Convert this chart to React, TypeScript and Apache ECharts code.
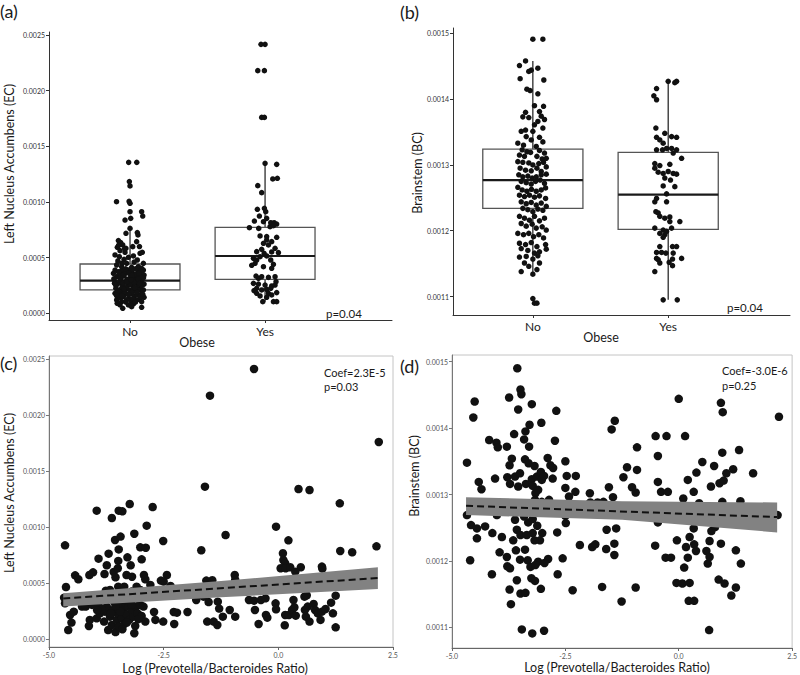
import React, { useEffect, useRef } from 'react';
import * as echarts from 'echarts';

const FONT = 'Lato, "Open Sans", sans-serif';

const obeseCategories = ['No', 'Yes'];
const nucleusTicks = [0, 0.0005, 0.001, 0.0015, 0.002, 0.0025];
const brainTicks = [0.0011, 0.0012, 0.0013, 0.0014, 0.0015];
const ratioTicks = [-5, -2.5, 0, 2.5];

// [position, whiskerLow, q1, median, q3, whiskerHigh]
const nucleusBoxes = [
  [1, 0.00005, 0.00021, 0.000293, 0.000443, 0.000749],
  [2, 0.000105, 0.000305, 0.000515, 0.000772, 0.001347],
];
const brainBoxes = [
  [1, 0.001133, 0.001234, 0.001277, 0.001324, 0.001458],
  [2, 0.001095, 0.001202, 0.001255, 0.001319, 0.001427],
];

// jittered points [jitteredGroup, value]
const nucleusNo = [
  [0.99, 0.001356], [1.05, 0.001356], [0.995, 0.001183], [1.0, 0.001144], [0.9, 0.001003], [0.993, 0.001006], [1.0, 0.000988], [1.0, 0.000913], [1.086, 0.000913], [1.094, 0.000874], [0.963, 0.000838], [1.005, 0.000853], [1.0, 0.000763], [0.97, 0.000719], [1.054, 0.000725], [1.059, 0.000704],
  [0.914, 0.000653], [0.931, 0.000635], [0.946, 0.000614], [0.906, 0.000593], [0.97, 0.000584], [0.926, 0.000563], [0.963, 0.000548], [1.02, 0.000599], [1.049, 0.000644], [1.074, 0.000539], [1.091, 0.000548],
  [0.889, 0.000524], [0.921, 0.000509], [0.956, 0.000485], [0.988, 0.000503], [1.025, 0.000515], [1.054, 0.000479], [1.099, 0.000449], [0.901, 0.000434], [0.938, 0.000419], [0.975, 0.000449], [1.012, 0.000413], [1.062, 0.000419], [1.086, 0.000404],
  [0.889, 0.000389], [0.914, 0.000374], [0.938, 0.000383], [0.963, 0.000359], [0.988, 0.000389], [1.012, 0.000374], [1.037, 0.000353], [1.062, 0.000383], [1.086, 0.000365], [1.104, 0.000344], [0.901, 0.000329], [0.931, 0.000314], [0.956, 0.000335], [0.98, 0.000305], [1.005, 0.000329], [1.03, 0.000311], [1.054, 0.000323], [1.079, 0.000305], [1.099, 0.000389], [0.877, 0.000359],
  [0.889, 0.000284], [0.906, 0.000263], [0.926, 0.000275], [0.946, 0.000246], [0.965, 0.000284], [0.985, 0.000254], [1.005, 0.000269], [1.025, 0.00024], [1.044, 0.000275], [1.064, 0.000251], [1.084, 0.000284], [1.104, 0.000263], [0.895, 0.000225], [0.921, 0.00021], [0.941, 0.000234], [0.96, 0.00021], [0.98, 0.000222], [1.0, 0.000204], [1.02, 0.000222], [1.04, 0.00021], [1.059, 0.000234], [1.079, 0.000216], [1.099, 0.00021],
  [0.889, 0.00018], [0.914, 0.000165], [0.931, 0.000186], [0.951, 0.00015], [0.97, 0.000174], [0.99, 0.000135], [1.01, 0.00018], [1.03, 0.00015], [1.049, 0.000168], [1.069, 0.000126], [1.086, 0.00018], [1.104, 0.000144], [0.901, 0.00012], [0.938, 0.000105], [0.975, 0.00012], [1.012, 0.000105], [1.049, 0.00012], [1.086, 0.000105],
  [0.926, 0.000075], [0.946, 0.000045], [0.988, 0.000075], [1.025, 0.000084], [1.086, 0.000054], [1.012, 0.00006],
  [0.88, 0.00031], [0.895, 0.00025], [0.91, 0.0002], [0.935, 0.00029], [0.95, 0.00027], [0.97, 0.00023], [0.985, 0.0003], [1.0, 0.00026], [1.015, 0.00019], [1.03, 0.00028], [1.045, 0.00035], [1.06, 0.00021], [1.075, 0.00033], [1.09, 0.00025], [1.1, 0.00032], [0.92, 0.00036], [0.945, 0.00034], [0.968, 0.0004], [0.99, 0.00036], [1.015, 0.00034], [1.04, 0.0004], [1.065, 0.00029], [1.08, 0.00037], [0.9, 0.00016], [0.93, 0.00014], [0.96, 0.00019], [0.99, 0.00017], [1.02, 0.00013], [1.05, 0.00019], [1.075, 0.00015], [0.91, 0.00047], [0.94, 0.00045], [0.96, 0.00058], [1.03, 0.00046], [1.07, 0.0006], [0.915, 0.00061], [1.06, 0.00031], [0.905, 0.00009], [0.97, 0.0001], [1.04, 0.0001],
  [0.885, 0.00027], [0.925, 0.00032], [0.955, 0.00022], [0.975, 0.00028], [1.008, 0.0003], [1.035, 0.00023], [1.07, 0.00027], [1.095, 0.00017], [0.94, 0.00016], [1.065, 0.00036],
];
const nucleusYes = [
  [1.97, 0.002416], [2.0, 0.002416], [1.946, 0.00218], [1.995, 0.00218], [1.975, 0.00176], [1.995, 0.00176], [2.0, 0.001347], [2.086, 0.001338], [2.057, 0.001207], [2.091, 0.001213], [1.946, 0.001147], [1.975, 0.001084],
  [1.943, 0.000934], [1.995, 0.000943], [2.005, 0.000913], [1.958, 0.000874], [2.012, 0.000853], [1.921, 0.000829], [1.988, 0.000823], [2.042, 0.000814], [2.067, 0.000814], [2.086, 0.000802],
  [1.884, 0.000769], [1.953, 0.000763], [2.037, 0.000778], [2.062, 0.000787], [1.963, 0.000695], [2.012, 0.000689], [2.086, 0.000683], [2.012, 0.000659], [2.049, 0.000644], [1.988, 0.000629], [2.025, 0.000614],
  [1.938, 0.000554], [1.975, 0.000575], [1.993, 0.000539], [2.049, 0.000551], [2.074, 0.000584], [2.099, 0.000545], [1.914, 0.000494], [1.926, 0.000449], [1.938, 0.000479], [1.963, 0.000509], [2.012, 0.000515], [2.042, 0.000479], [2.062, 0.00044],
  [1.901, 0.000431], [1.988, 0.000419], [2.049, 0.000404], [1.933, 0.000335], [1.951, 0.000314], [1.975, 0.000329], [2.025, 0.000323], [2.074, 0.000329], [2.081, 0.000284],
  [1.914, 0.000269], [1.951, 0.000263], [2.0, 0.000254], [2.049, 0.000246], [2.074, 0.000254], [1.938, 0.000225], [1.975, 0.00021], [2.012, 0.000216], [2.042, 0.000225],
  [1.918, 0.000204], [1.938, 0.00018], [2.025, 0.00018], [2.049, 0.000165], [2.086, 0.000186], [1.963, 0.000156], [2.012, 0.000144], [1.983, 0.000105], [2.062, 0.000105], [2.086, 0.000105],
];
const brainNo = [
  [1.0, 0.001491], [1.074, 0.001491], [0.946, 0.001458], [0.901, 0.001451], [1.037, 0.001447], [0.988, 0.001444], [0.97, 0.001442], [0.906, 0.001431], [1.081, 0.001429], [0.956, 0.001415], [0.98, 0.001413], [1.037, 0.001408],
  [1.012, 0.00139], [1.079, 0.001389], [0.946, 0.00138], [1.049, 0.001381], [0.926, 0.001373], [0.97, 0.001372], [1.062, 0.001374], [1.086, 0.001369], [1.037, 0.001366], [1.012, 0.001361],
  [1.074, 0.001356], [0.946, 0.001353], [1.0, 0.001351], [0.914, 0.001351],
  [0.951, 0.001343], [1.049, 0.001342], [0.988, 0.001338], [1.074, 0.001335], [0.889, 0.001333], [0.931, 0.00133], [1.025, 0.001328],
  [0.921, 0.001323], [0.956, 0.00132], [0.983, 0.001319], [1.049, 0.001322], [1.086, 0.001318], [0.901, 0.001315], [0.938, 0.001313], [1.03, 0.001313], [1.069, 0.001309], [1.099, 0.00131],
  [0.889, 0.001305], [0.926, 0.001304], [0.97, 0.001303], [1.0, 0.0013], [1.044, 0.001302], [1.079, 0.001304], [1.099, 0.001297], [0.906, 0.001295], [0.946, 0.001292], [0.988, 0.001291], [1.03, 0.001295], [1.062, 0.00129],
  [0.896, 0.001285], [0.926, 0.001282], [0.963, 0.001283], [0.995, 0.00128], [1.025, 0.001282], [1.062, 0.001285], [1.099, 0.001286], [0.914, 0.001275], [0.951, 0.001273], [0.988, 0.001271], [1.02, 0.001275], [1.054, 0.001277], [1.086, 0.001272],
  [0.889, 0.001266], [0.921, 0.001262], [0.956, 0.00126], [0.99, 0.001263], [1.025, 0.00126], [1.062, 0.001262], [1.094, 0.001265], [0.901, 0.001254], [0.938, 0.001252], [0.975, 0.001254], [1.012, 0.001251], [1.049, 0.001253], [1.094, 0.001249],
  [0.914, 0.001244], [0.951, 0.001241], [0.988, 0.001243], [1.025, 0.001239], [1.062, 0.001242], [0.926, 0.001234], [0.963, 0.001232], [1.0, 0.001229], [1.037, 0.001233], [1.074, 0.001231], [1.099, 0.001237],
  [0.901, 0.001222], [0.938, 0.001219], [0.975, 0.001216], [1.012, 0.001222], [1.049, 0.001215], [1.086, 0.001219], [0.914, 0.001211], [0.951, 0.001207], [0.995, 0.00121], [1.025, 0.001204], [1.069, 0.001206], [1.099, 0.001201],
  [0.889, 0.001196], [0.931, 0.001194], [0.97, 0.001196], [1.005, 0.001191], [1.044, 0.001194], [1.079, 0.001189], [0.901, 0.001181], [0.946, 0.001179], [0.988, 0.001182], [1.03, 0.001176], [1.094, 0.001179],
  [0.914, 0.001173], [0.963, 0.00117], [1.012, 0.001166], [1.049, 0.001168], [1.099, 0.001172], [0.901, 0.00116], [0.951, 0.001161], [1.0, 0.001157], [1.037, 0.001162],
  [0.914, 0.001138], [1.0, 0.001134], [1.03, 0.001141], [0.938, 0.001151], [0.97, 0.001146], [1.049, 0.001151],
  [1.0, 0.001097], [1.012, 0.00109], [1.03, 0.00109],
];
const brainYes = [
  [2.0, 0.001427], [2.049, 0.001425], [2.062, 0.001427], [1.914, 0.001416], [1.894, 0.001405], [1.914, 0.001399],
  [1.909, 0.001356], [1.975, 0.001348], [1.914, 0.001342], [2.025, 0.001343], [2.062, 0.001342], [1.938, 0.001338], [1.963, 0.001333],
  [1.914, 0.001323], [1.958, 0.001323], [1.988, 0.001325], [2.025, 0.001325], [2.062, 0.001323], [2.037, 0.001318], [2.099, 0.00131],
  [1.901, 0.001302], [1.938, 0.001299], [2.012, 0.001301], [1.901, 0.001295], [1.926, 0.001289], [1.963, 0.001287], [2.0, 0.00129], [2.037, 0.001287], [2.062, 0.001286],
  [1.975, 0.00128], [2.017, 0.001277], [1.963, 0.001268], [2.049, 0.001267],
  [1.988, 0.001256], [1.914, 0.001249], [1.901, 0.001244], [1.988, 0.001244], [1.909, 0.001229], [1.926, 0.001227], [1.938, 0.001222], [1.975, 0.001219], [2.012, 0.001221],
  [2.012, 0.001214], [2.086, 0.001214], [1.901, 0.001204], [1.963, 0.001201], [1.988, 0.001199], [2.025, 0.001204], [1.938, 0.001196], [1.975, 0.001194],
  [1.963, 0.00119], [1.938, 0.001176], [2.032, 0.001176], [2.062, 0.001176], [1.914, 0.001167], [1.951, 0.001167], [1.983, 0.001166], [2.037, 0.001166],
  [1.914, 0.001158], [1.926, 0.001156], [2.032, 0.001157], [2.099, 0.001158], [1.938, 0.001151], [2.007, 0.001152], [2.032, 0.001147],
  [1.901, 0.001138], [1.963, 0.001095], [2.067, 0.001095],
];

// [log ratio, value]
const ratioNucleus = [
  [-0.53, 0.002414], [-1.49, 0.002176], [2.19, 0.001762], [-1.6, 0.001363], [0.44, 0.001342], [0.68, 0.001333], [1.34, 0.001214], [-3.24, 0.001208], [-3.96, 0.001149], [-3.48, 0.001149], [-3.4, 0.001143], [-2.74, 0.001181], [-3.63, 0.001083], [-3.14, 0.000943], [-1.15, 0.000931], [-0.05, 0.001006], [-2.87, 0.001015], [-3.56, 0.000887], [-3.44, 0.000917], [-2.51, 0.000878], [0.22, 0.000884], [-3.01, 0.000821], [-2.89, 0.000818], [-3.48, 0.000803], [-1.68, 0.000795], [1.35, 0.000789], [1.61, 0.000777], [2.14, 0.00083], [-4.65, 0.000839], [-3.7, 0.000765], [0.1, 0.000768], [-3.92, 0.00072], [-2.98, 0.000714], [-3.29, 0.000732], [-3.49, 0.0007], [0.11, 0.000708], [0.15, 0.000679], [-3.74, 0.000661], [-3.22, 0.000661], [0.05, 0.000634], [0.16, 0.000634], [0.26, 0.000643], [0.49, 0.000643], [0.95, 0.000649], [0.96, 0.000631], [0.37, 0.000604], [-4.04, 0.000598], [-4.12, 0.000574], [-4.43, 0.000571], [-4.36, 0.000536], [-4.63, 0.000467], [-3.79, 0.000583], [-3.59, 0.000601], [-3.5, 0.000634], [-3.55, 0.000554], [-3.31, 0.000574], [-3.19, 0.000559], [-2.93, 0.000574], [-2.9, 0.000536], [-2.79, 0.000485], [-2.56, 0.000524], [-2.43, 0.000574], [-2.5, 0.000515], [-2.35, 0.000476], [-0.95, 0.000574], [-0.94, 0.00053], [-1.44, 0.000527], [-1.57, 0.000524], [-1.9, 0.000411], [-1.79, 0.000351], [-1.63, 0.000381], [-1.52, 0.000333], [-1.32, 0.000336], [-1.29, 0.000274], [-1.55, 0.000158], [-1.41, 0.000158], [-1.33, 0.000128], [-1.21, 0.000202], [-1.06, 0.000262], [-0.94, 0.000202], [-1.98, 0.000244], [-2.28, 0.000244], [-2.21, 0.000238], [-2.27, 0.000137], [-2.51, 0.000158], [-2.68, 0.000173], [-2.71, 0.000244], [-0.64, 0.000351], [-0.53, 0.000345], [-0.38, 0.000351], [-0.28, 0.000366], [-0.51, 0.000262], [-0.43, 0.000137], [-0.27, 0.000217], [-0.24, 0.000193], [-0.06, 0.000321], [-0.05, 0.000268], [0.14, 0.000125], [0.15, 0.000217], [0.23, 0.000217], [0.3, 0.000262], [0.33, 0.000351], [0.35, 0.000286], [0.38, 0.000211], [0.57, 0.000381], [0.62, 0.000393], [0.64, 0.000292], [0.6, 0.000202], [0.68, 0.000158], [0.77, 0.000315], [0.8, 0.000262], [0.86, 0.000232], [0.92, 0.000173], [0.95, 0.000247], [1.03, 0.000271], [1.15, 0.000327], [1.19, 0.000232], [1.25, 0.00039], [1.25, 0.000107], [0.58, 0.000262],
  [-4.67, 0.000372], [-4.65, 0.000321], [-4.58, 0.000083], [-4.54, 0.000217], [-4.51, 0.000149], [-4.46, 0.000247], [-4.28, 0.000292], [-4.2, 0.000292], [-4.13, 0.000119], [-4.11, 0.000173], [-4.06, 0.000307], [-3.96, 0.000187], [-3.92, 0.000315], [-3.89, 0.000232], [-3.8, 0.000158], [-3.78, 0.000247], [-3.74, 0.000292], [-3.71, 0.000083], [-3.67, 0.000202], [-3.63, 0.000128], [-3.6, 0.000262], [-3.58, 0.000336], [-3.55, 0.000065], [-3.52, 0.000173], [-3.51, 0.000232], [-3.48, 0.000113], [-3.45, 0.000292], [-3.44, 0.000366], [-3.41, 0.000187], [-3.38, 0.000262], [-3.36, 0.000137], [-3.33, 0.000321], [-3.31, 0.000223], [-3.27, 0.000292], [-3.25, 0.000173], [-3.22, 0.000351], [-3.19, 0.000262], [-3.16, 0.000202], [-3.14, 0.000054], [-3.12, 0.000119], [-3.1, 0.000292], [-3.07, 0.000232], [-3.01, 0.000307], [-2.98, 0.000208], [-2.94, 0.000292], [-2.9, 0.000158], [-3.76, 0.000434], [-3.67, 0.00044], [-3.49, 0.00047], [-3.36, 0.00047], [-3.2, 0.000426], [-3.09, 0.00047], [-3.01, 0.00044], [-2.87, 0.000411], [-3.07, 0.000363],
  [-3.85, 0.00027], [-3.65, 0.00023], [-3.45, 0.00025], [-3.3, 0.00015], [-3.2, 0.00031], [-3.05, 0.00018], [-3.55, 0.0003], [-3.4, 0.00009], [-3.7, 0.00038], [-3.95, 0.00026],
];
const ratioBrain = [
  [-3.56, 0.00149], [-3.49, 0.001458], [-3.47, 0.001451], [-3.74, 0.001446], [-4.5, 0.00144], [-3.24, 0.001436], [-3.54, 0.001428], [-2.7, 0.001426], [-4.53, 0.001416], [0.93, 0.001438], [0.97, 0.001424], [0.0, 0.001444], [2.21, 0.001417], [-1.41, 0.001411], [-1.48, 0.001398], [-3.03, 0.001408], [-3.29, 0.001405], [-3.38, 0.001395], [-3.63, 0.001391], [-0.51, 0.001388], [-0.27, 0.001388], [0.14, 0.001388], [-4.18, 0.001382], [-4.02, 0.001378], [-3.99, 0.001371], [-3.41, 0.001383], [-3.3, 0.001372], [-3.79, 0.001372], [-2.73, 0.001381], [-0.92, 0.001371], [1.33, 0.001367], [0.96, 0.001363], [-4.67, 0.001348], [-3.68, 0.001354], [-3.73, 0.001344], [-3.39, 0.001353], [-3.31, 0.001347], [-3.18, 0.001343], [-2.89, 0.001355], [-2.83, 0.001344], [-2.77, 0.00134], [-2.5, 0.00135], [-0.46, 0.001358], [0.52, 0.001349], [0.78, 0.001343], [-1.14, 0.001341], [-0.92, 0.001337], [1.2, 0.001338],
  [-4.41, 0.001319], [-4.35, 0.001308], [-4.05, 0.001324], [-3.78, 0.001326], [-3.61, 0.001327], [-3.5, 0.001332], [-3.72, 0.001316], [-3.54, 0.001312], [-3.37, 0.001316], [-3.24, 0.001323], [-3.13, 0.001327], [-3.04, 0.001334], [-3.02, 0.001322], [-3.22, 0.001313], [-3.1, 0.001307], [-3.16, 0.001302], [-2.97, 0.001328], [-2.78, 0.001324], [-2.47, 0.001328], [-2.5, 0.00131], [-2.27, 0.001328], [-2.28, 0.001304], [-2.42, 0.001297], [-1.96, 0.001302], [-1.95, 0.001288], [-1.79, 0.001288], [-1.66, 0.001289], [-1.54, 0.001311], [-1.45, 0.001296], [-1.22, 0.001326], [-1.03, 0.001311], [-0.95, 0.001303], [-0.46, 0.001319], [-0.39, 0.001304], [-0.24, 0.001304], [0.1, 0.001294], [0.2, 0.001322], [0.33, 0.001304], [0.39, 0.001333], [0.45, 0.001287], [0.71, 0.001312], [0.9, 0.001317], [0.99, 0.001321], [1.05, 0.001332], [0.96, 0.001289], [1.36, 0.00129], [1.64, 0.001332], [0.8, 0.001251],
  [-4.67, 0.001269], [-4.58, 0.001254], [-4.45, 0.001249], [-4.45, 0.001234], [-4.27, 0.001252], [-4.11, 0.001242], [-4.01, 0.001269], [-3.9, 0.001236], [-3.95, 0.001213], [-4.6, 0.001201], [-4.12, 0.00118], [-3.79, 0.001206], [-3.78, 0.001192], [-3.72, 0.001189], [-3.73, 0.001157], [-3.7, 0.001135], [-3.57, 0.001171], [-3.5, 0.001202], [-3.65, 0.001231], [-3.61, 0.001262], [-3.59, 0.001216], [-3.49, 0.001151], [-3.38, 0.001152], [-3.46, 0.001097], [-3.23, 0.001091], [-2.97, 0.001095], [-3.39, 0.001217], [-3.33, 0.001201], [-3.27, 0.001191], [-3.25, 0.001174], [-3.17, 0.00117], [-3.1, 0.001199], [-3.16, 0.001194], [-3.04, 0.001158], [-3.06, 0.001231], [-3.01, 0.001242], [-2.88, 0.001203], [-2.96, 0.001197],
  [-3.41, 0.001267], [-3.32, 0.001258], [-3.22, 0.001263], [-3.12, 0.001253], [-3.57, 0.001247], [-3.49, 0.001239], [-3.35, 0.001239], [-3.22, 0.001242], [-3.18, 0.001231], [-3.43, 0.001284], [-3.28, 0.001284], [-3.17, 0.001292], [-3.02, 0.001289], [-2.86, 0.001292], [-3.81, 0.001277], [-3.66, 0.001284],
  [-2.68, 0.001243], [-2.56, 0.001204], [-2.67, 0.00118], [-2.5, 0.001268], [-2.49, 0.001257], [-2.34, 0.001156], [-2.18, 0.001224], [-1.91, 0.001221], [-1.84, 0.001225], [-1.69, 0.001161], [-1.6, 0.001218], [-1.59, 0.001247], [-1.38, 0.001249], [-1.42, 0.001226], [-1.42, 0.001209], [-1.26, 0.001139], [-0.95, 0.00116], [-0.52, 0.001223], [-0.46, 0.001258], [-0.29, 0.001205], [-0.17, 0.001205], [-0.04, 0.001231], [-0.05, 0.001167], [0.08, 0.001166], [0.12, 0.00119], [0.16, 0.001221], [0.2, 0.001205], [0.24, 0.001236], [0.24, 0.001167], [0.22, 0.00114], [0.34, 0.00114], [0.34, 0.001225], [0.33, 0.001249], [0.38, 0.001215], [0.61, 0.001215], [0.64, 0.001196], [0.68, 0.001206], [0.68, 0.00123], [0.72, 0.001245], [0.93, 0.001226], [0.88, 0.001172], [1.01, 0.001166], [1.26, 0.001216], [1.26, 0.00116], [1.16, 0.001148], [1.37, 0.001196], [0.67, 0.001096], [2.18, 0.001269],
];

// linear fits and confidence bands
const fitNucleusX = [-4.69, 2.17];
const fitNucleusY = [0.000365, 0.000547];
const bandNucleusX = [-4.69, -1.25, 2.17];
const bandNucleusLow = [0.000292, 0.000375, 0.000449];
const bandNucleusHigh = [0.000411, 0.00052, 0.000643];

const fitBrainX = [-4.69, 2.17];
const fitBrainY = [0.001283, 0.001266];
const bandBrainX = [-4.69, -1.25, 2.17];
const bandBrainLow = [0.001269, 0.001262, 0.001243];
const bandBrainHigh = [0.001296, 0.00129, 0.001288];

const BOX_HALF = 0.37;

const boxRender = (params: any, api: any) => {
  const pos = api.value(0);
  const low = api.coord([pos, api.value(1)]);
  const q1 = api.coord([pos, api.value(2)]);
  const med = api.coord([pos, api.value(3)]);
  const q3 = api.coord([pos, api.value(4)]);
  const high = api.coord([pos, api.value(5)]);
  const left = api.coord([pos - BOX_HALF, api.value(3)])[0];
  const right = api.coord([pos + BOX_HALF, api.value(3)])[0];
  return {
    type: 'group',
    children: [
      { type: 'line', shape: { x1: q3[0], y1: q3[1], x2: high[0], y2: high[1] }, style: { stroke: '#1a1a1a', lineWidth: 1.2 } },
      { type: 'line', shape: { x1: low[0], y1: low[1], x2: q1[0], y2: q1[1] }, style: { stroke: '#1a1a1a', lineWidth: 1.2 } },
      { type: 'rect', shape: { x: left, y: q3[1], width: right - left, height: q1[1] - q3[1] }, style: { fill: '#ffffff', stroke: '#555555', lineWidth: 1.3 } },
      { type: 'line', shape: { x1: left, y1: med[1], x2: right, y2: med[1] }, style: { stroke: '#1a1a1a', lineWidth: 2.2 } },
    ],
  };
};

const makeBandRender = (xs: number[], lows: number[], highs: number[]) => (params: any, api: any) => {
  const pts: number[][] = [];
  for (let i = 0; i < xs.length; i++) pts.push(api.coord([xs[i], highs[i]]));
  for (let i = xs.length - 1; i >= 0; i--) pts.push(api.coord([xs[i], lows[i]]));
  return { type: 'polygon', shape: { points: pts }, style: { fill: '#828282' } };
};

const tickLabel = (dark: boolean) => ({
  fontSize: 7,
  color: dark ? '#333' : '#555',
  fontFamily: FONT,
  margin: 4,
});

const yAxisFor = (grid: number, min: number, max: number, ticks: number[], framed: boolean) => ({
  type: 'value',
  gridIndex: grid,
  min,
  max,
  splitLine: { show: false },
  axisLine: { show: true, onZero: false, lineStyle: { color: framed ? '#777' : '#333', width: 1 } },
  axisTick: { show: true, length: 3, customValues: ticks, lineStyle: { color: framed ? '#777' : '#333' } },
  axisLabel: { ...tickLabel(!framed), customValues: ticks, formatter: (v: number) => v.toFixed(4) },
});

const catAxisFor = (grid: number, min: number, max: number) => ({
  type: 'value',
  gridIndex: grid,
  min,
  max,
  splitLine: { show: false },
  axisLine: { show: true, onZero: false, lineStyle: { color: '#333', width: 1 } },
  axisTick: { show: true, length: 3, customValues: [1, 2], lineStyle: { color: '#333' } },
  axisLabel: {
    customValues: [1, 2],
    formatter: (v: number) => obeseCategories[Math.round(v) - 1],
    fontSize: 12,
    color: '#222',
    fontFamily: FONT,
    margin: 5,
  },
});

const ratioAxisFor = (grid: number) => ({
  type: 'value',
  gridIndex: grid,
  min: ratioTicks[0],
  max: ratioTicks[ratioTicks.length - 1],
  interval: 2.5,
  splitLine: { show: false },
  axisLine: { show: true, onZero: false, lineStyle: { color: '#666', width: 1 } },
  axisTick: { show: true, length: 3, lineStyle: { color: '#666' } },
  axisLabel: { ...tickLabel(false), showMaxLabel: true, showMinLabel: true, formatter: (v: number) => v.toFixed(1) },
});

const scatter = (xi: number, yi: number, data: number[][], size: number) => ({
  type: 'scatter',
  xAxisIndex: xi,
  yAxisIndex: yi,
  data,
  symbolSize: size,
  itemStyle: { color: '#111', opacity: 1 },
  z: 3,
  silent: true,
});

const txt = (x: number, y: number, text: string, size: number, opts: any = {}) => ({
  type: 'text',
  x,
  y,
  rotation: opts.rotation || 0,
  silent: true,
  style: {
    text,
    fontSize: size,
    fontFamily: FONT,
    fill: opts.fill || '#1a1a1a',
    align: opts.align || 'left',
    verticalAlign: 'middle',
  },
});

export default function App() {
  const ref = useRef<HTMLDivElement>(null);
  useEffect(() => {
    if (!ref.current) return;
    const chart = echarts.init(ref.current, null, { renderer: 'svg' });
    chart.setOption({
      animation: false,
      backgroundColor: '#ffffff',
      grid: [
        { left: 49, top: 32, width: 343, height: 288 },
        { left: 453, top: 28, width: 337, height: 287 },
        { left: 49, top: 356, width: 344, height: 291, show: true, borderColor: '#c4c4c4', borderWidth: 1 },
        { left: 452, top: 355, width: 342, height: 293, show: true, borderColor: '#c4c4c4', borderWidth: 1 },
      ],
      xAxis: [catAxisFor(0, 0.4, 2.94), catAxisFor(1, 0.41, 2.9), ratioAxisFor(2), ratioAxisFor(3)],
      yAxis: [
        yAxisFor(0, -0.00006, 0.002527, nucleusTicks, false),
        yAxisFor(1, 0.001072, 0.001508, brainTicks, false),
        yAxisFor(2, -0.0000688, 0.00253, nucleusTicks, true),
        yAxisFor(3, 0.001069, 0.00151, brainTicks, true),
      ],
      series: [
        { type: 'custom', xAxisIndex: 0, yAxisIndex: 0, data: nucleusBoxes, renderItem: boxRender, encode: { x: 0, y: [1, 2, 3, 4, 5] }, z: 2, silent: true },
        { type: 'custom', xAxisIndex: 1, yAxisIndex: 1, data: brainBoxes, renderItem: boxRender, encode: { x: 0, y: [1, 2, 3, 4, 5] }, z: 2, silent: true },
        scatter(0, 0, nucleusNo, 5.5),
        scatter(0, 0, nucleusYes, 5.5),
        scatter(1, 1, brainNo, 5.5),
        scatter(1, 1, brainYes, 5.5),
        scatter(2, 2, ratioNucleus, 8.5),
        scatter(3, 3, ratioBrain, 8.5),
        { type: 'custom', xAxisIndex: 2, yAxisIndex: 2, data: [[bandNucleusX[0], bandNucleusLow[0]]], renderItem: makeBandRender(bandNucleusX, bandNucleusLow, bandNucleusHigh), z: 4, silent: true },
        { type: 'custom', xAxisIndex: 3, yAxisIndex: 3, data: [[bandBrainX[0], bandBrainLow[0]]], renderItem: makeBandRender(bandBrainX, bandBrainLow, bandBrainHigh), z: 4, silent: true },
        { type: 'line', xAxisIndex: 2, yAxisIndex: 2, data: fitNucleusX.map((x, i) => [x, fitNucleusY[i]]), symbol: 'none', lineStyle: { color: '#111', width: 2, type: [7, 4] }, z: 5, silent: true },
        { type: 'line', xAxisIndex: 3, yAxisIndex: 3, data: fitBrainX.map((x, i) => [x, fitBrainY[i]]), symbol: 'none', lineStyle: { color: '#111', width: 2, type: [7, 4] }, z: 5, silent: true },
      ],
      graphic: [
        txt(0, 11, '(a)', 18),
        txt(400, 12, '(b)', 18),
        txt(0, 363, '(c)', 18),
        txt(400, 366, '(d)', 18),
        txt(9, 164, 'Left Nucleus Accumbens (EC)', 12.5, { align: 'center', rotation: Math.PI / 2 }),
        txt(417, 173, 'Brainstem (BC)', 12.5, { align: 'center', rotation: Math.PI / 2 }),
        txt(9, 493, 'Left Nucleus Accumbens (EC)', 12.5, { align: 'center', rotation: Math.PI / 2 }),
        txt(414, 476, 'Brainstem (BC)', 12.5, { align: 'center', rotation: Math.PI / 2 }),
        txt(197, 342, 'Obese', 12.5, { align: 'center' }),
        txt(601, 337, 'Obese', 12.5, { align: 'center' }),
        txt(215, 668, 'Log (Prevotella/Bacteroides Ratio)', 12.5, { align: 'center' }),
        txt(617, 667, 'Log (Prevotella/Bacteroides Ratio)', 12.5, { align: 'center' }),
        txt(326, 313, 'p=0.04', 11.5),
        txt(727, 307, 'p=0.04', 11.5),
        txt(324, 372, 'Coef=2.3E-5', 11),
        txt(324, 386, 'p=0.03', 11),
        txt(722, 370, 'Coef=-3.0E-6', 11),
        txt(722, 385, 'p=0.25', 11),
      ],
    });
    return () => chart.dispose();
  }, []);
  return <div ref={ref} style={{ position: 'fixed', left: 0, top: 0, width: 800, height: 675, background: '#fff' }} />;
}
